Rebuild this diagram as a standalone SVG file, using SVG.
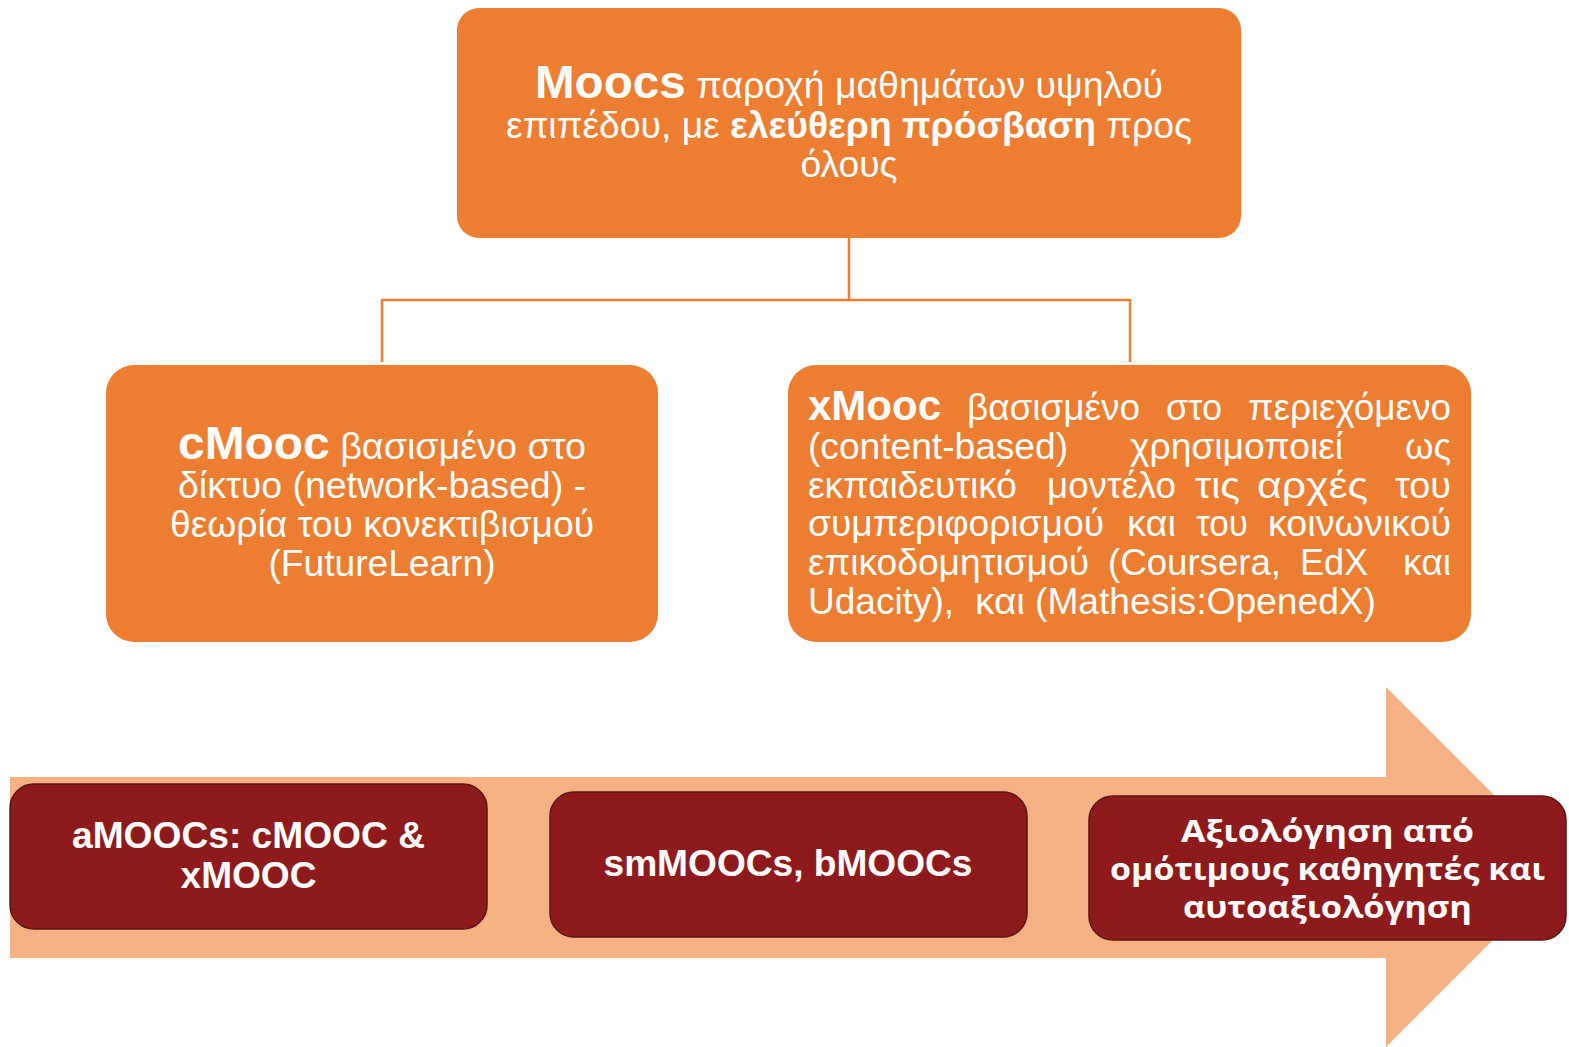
<svg xmlns="http://www.w3.org/2000/svg" width="1569" height="1047" viewBox="0 0 1569 1047">
<style>
.orange{fill:#ED7D31;}
.conn{fill:none;stroke:#ED7D31;stroke-width:2.5;}
.red{fill:#8E1A1C;stroke:#5E1515;stroke-width:1.5;}
.t{font-family:"Liberation Sans",Arial,sans-serif;fill:#FFFFFF;font-size:37px;}
.b{font-weight:bold;}
.big{font-size:47px;font-weight:bold;}
.g{font-family:"Open Sans","Noto Sans",sans-serif;font-weight:bold;fill:#FFFFFF;font-size:31px;}
</style>
<rect width="1569" height="1047" fill="#FFFFFF"/>
<g id="connectors">
<path class="conn" d="M849 238 V300 M382 300 H1130 M382 299 V362 M1130 299 V362"/>
</g>
<g id="node-moocs">
<rect class="orange" x="457" y="8" width="784" height="230" rx="22"/>
<text class="t" x="849" y="98" text-anchor="middle" textLength="628" lengthAdjust="spacingAndGlyphs"><tspan class="big">Moocs</tspan> παροχή μαθημάτων υψηλού</text>
<text class="t" x="849" y="138" text-anchor="middle" textLength="686" lengthAdjust="spacingAndGlyphs">επιπέδου, με <tspan class="b">ελεύθερη πρόσβαση</tspan> προς</text>
<text class="t" x="849" y="177" text-anchor="middle" textLength="97" lengthAdjust="spacingAndGlyphs">όλους</text>
</g>
<g id="node-cmooc">
<rect class="orange" x="106" y="365" width="552" height="277" rx="28"/>
<text class="t" x="382" y="459" text-anchor="middle" textLength="408" lengthAdjust="spacingAndGlyphs"><tspan class="big">cMooc</tspan> βασισμένο στο</text>
<text class="t" x="382" y="498" text-anchor="middle" textLength="408" lengthAdjust="spacingAndGlyphs">δίκτυο (network-based) -</text>
<text class="t" x="382" y="537" text-anchor="middle" textLength="424" lengthAdjust="spacingAndGlyphs">θεωρία του κονεκτιβισμού</text>
<text class="t" x="382" y="576" text-anchor="middle" textLength="227" lengthAdjust="spacingAndGlyphs">(FutureLearn)</text>
</g>
<g id="node-xmooc">
<rect class="orange" x="788" y="365" width="683" height="277" rx="28"/>
<g class="t">
<text x="808" y="420" class="b" style="font-size:42px" textLength="133" lengthAdjust="spacingAndGlyphs">xMooc</text>
<text x="967" y="420" textLength="173" lengthAdjust="spacingAndGlyphs">βασισμένο</text>
<text x="1166" y="420" textLength="56" lengthAdjust="spacingAndGlyphs">στο</text>
<text x="1248" y="420" textLength="203" lengthAdjust="spacingAndGlyphs">περιεχόμενο</text>
<text x="808" y="459" textLength="260" lengthAdjust="spacingAndGlyphs">(content-based)</text>
<text x="1130" y="459" textLength="213" lengthAdjust="spacingAndGlyphs">χρησιμοποιεί</text>
<text x="1405" y="459" textLength="46" lengthAdjust="spacingAndGlyphs">ως</text>
<text x="808" y="498" textLength="209" lengthAdjust="spacingAndGlyphs">εκπαιδευτικό</text>
<text x="1047" y="498" textLength="129" lengthAdjust="spacingAndGlyphs">μοντέλο</text>
<text x="1195" y="498" textLength="45" lengthAdjust="spacingAndGlyphs">τις</text>
<text x="1257" y="498" textLength="111" lengthAdjust="spacingAndGlyphs">αρχές</text>
<text x="1395" y="498" textLength="56" lengthAdjust="spacingAndGlyphs">του</text>
<text x="808" y="536" textLength="296" lengthAdjust="spacingAndGlyphs">συμπεριφορισμού</text>
<text x="1127" y="536" textLength="49" lengthAdjust="spacingAndGlyphs">και</text>
<text x="1196" y="536" textLength="52" lengthAdjust="spacingAndGlyphs">του</text>
<text x="1268" y="536" textLength="183" lengthAdjust="spacingAndGlyphs">κοινωνικού</text>
<text x="808" y="575" textLength="281" lengthAdjust="spacingAndGlyphs">επικοδομητισμού</text>
<text x="1108" y="575" textLength="173" lengthAdjust="spacingAndGlyphs">(Coursera,</text>
<text x="1300" y="575" textLength="68" lengthAdjust="spacingAndGlyphs">EdX</text>
<text x="1403" y="575" textLength="48" lengthAdjust="spacingAndGlyphs">και</text>
<text x="808" y="614" textLength="146" lengthAdjust="spacingAndGlyphs">Udacity),</text>
<text x="975" y="614" textLength="50" lengthAdjust="spacingAndGlyphs">και</text>
<text x="1035" y="614" textLength="341" lengthAdjust="spacingAndGlyphs">(Mathesis:OpenedX)</text>
</g>
</g>
<g id="arrow">
<polygon points="10,777 1386,777 1386,687 1566,867 1386,1047 1386,958 10,958" fill="#F4B183"/>
</g>
<g id="node-amoocs">
<rect class="red" x="10" y="784" width="477" height="145" rx="24"/>
<text class="t b" x="248.5" y="848" text-anchor="middle" textLength="353" lengthAdjust="spacingAndGlyphs">aMOOCs: cMOOC &amp;</text>
<text class="t b" x="248.5" y="888" text-anchor="middle" textLength="136" lengthAdjust="spacingAndGlyphs">xMOOC</text>
</g>
<g id="node-smmoocs">
<rect class="red" x="550" y="792" width="477" height="145" rx="24"/>
<text class="t b" x="788" y="876" text-anchor="middle" textLength="369" lengthAdjust="spacingAndGlyphs">smMOOCs, bMOOCs</text>
</g>
<g id="node-peer">
<rect class="red" x="1089" y="796" width="477" height="144" rx="24"/>
<text class="g" x="1327.5" y="842" text-anchor="middle" textLength="293" lengthAdjust="spacingAndGlyphs">Αξιολόγηση από</text>
<text class="g" x="1327.5" y="880" text-anchor="middle" textLength="435" lengthAdjust="spacingAndGlyphs">ομότιμους καθηγητές και</text>
<text class="g" x="1327.5" y="918" text-anchor="middle" textLength="289" lengthAdjust="spacingAndGlyphs">αυτοαξιολόγηση</text>
</g>
</svg>
